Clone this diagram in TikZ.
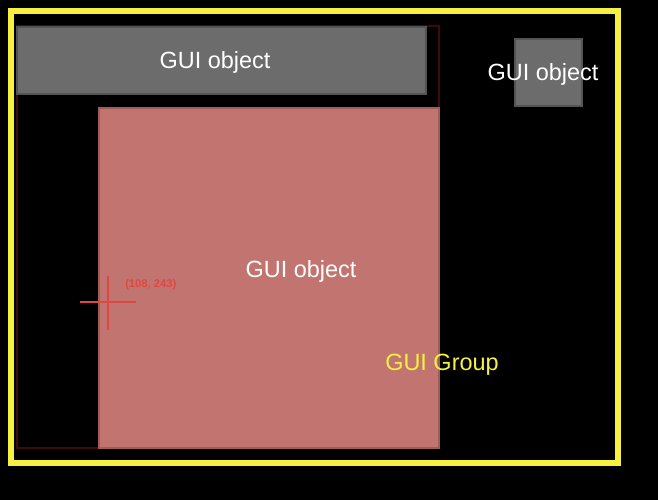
\documentclass[tikz,border=0pt]{standalone}
\usepackage{fontspec}
\setmainfont{Liberation Sans}
\usepackage{tikz}
\usetikzlibrary{positioning,fit}
\definecolor{groupyellow}{RGB}{246,240,64}
\definecolor{objgray}{RGB}{108,108,108}
\definecolor{objedge}{RGB}{84,84,84}
\definecolor{salmonobj}{RGB}{194,117,112}
\definecolor{salmonedge}{RGB}{160,92,88}
\definecolor{darkframe}{RGB}{62,10,10}
\definecolor{crossred}{RGB}{222,72,66}

\begin{document}
\begin{tikzpicture}[
  x=0.75pt, y=-0.75pt,
  font=\fontsize{17.6}{20}\selectfont,
  group/.style={draw=groupyellow, line width=3.8pt, inner sep=0pt},
  frame/.style={draw=darkframe, line width=2pt, inner sep=0pt},
  guiobj/.style={draw=objedge, fill=objgray, line width=1pt, inner sep=0pt},
  bigobj/.style={draw=salmonedge, fill=salmonobj, line width=1pt, inner sep=0pt},
  lbl/.style={text=white, inner sep=0pt},
  grplbl/.style={text=groupyellow, inner sep=0pt},
  cross/.style={crossred, line width=1.6pt},
  ]
  % background
  \fill[black] (0,0) rectangle (658,500);
  \useasboundingbox (0,0) rectangle (658,500);
  % group and frames
  \node[group, fit={(11,11) (618,463)}] (grp) {};
  \node[frame, fit={(17,26) (439,448)}] (frm) {};
  % gui objects
  \node[guiobj, fit={(17,27) (426,94)}] (top) {};
  \node[guiobj, fit={(515,39) (582,106)}] (small) {};
  \node[bigobj, fit={(99,108) (439,448)}] (big) {};
  % labels
  \node[lbl] (toplbl) at (215,62) {GUI object};
  \node[lbl] (smalllbl) at (543,74) {GUI object};
  \node[lbl] (biglbl) at (301,271) {GUI object};
  \node[grplbl] (grplbl) at (442,365) {GUI Group};
  % origin marker
  \coordinate (orig) at (108,302);
  \coordinate (xl) at (80,302);
  \coordinate (xr) at (136,302);
  \coordinate (yt) at (108,276);
  \coordinate (yb) at (108,330);
  \draw[cross] (xl) -- (xr);
  \draw[cross] (yt) -- (yb);
  \node[text=crossred, font=\fontsize{8.4}{10}\selectfont\bfseries, anchor=west, inner sep=0pt] (origlbl) at (125,285) {(108, 243)};
\end{tikzpicture}
\end{document}
